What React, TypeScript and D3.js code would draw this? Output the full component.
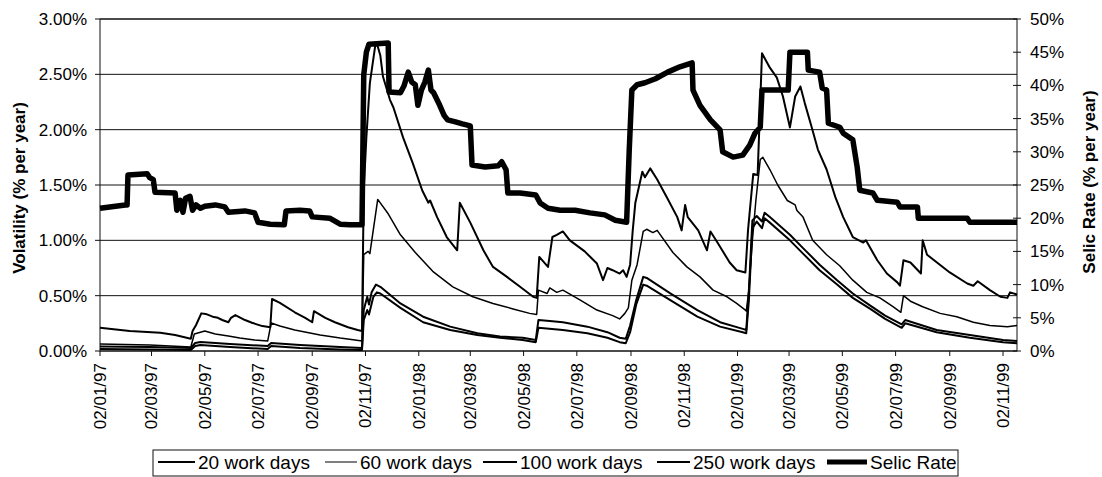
import React from "react";
import * as d3 from "d3";

type P = [string, number];

const tickLabels = ["02/01/97","02/03/97","02/05/97","02/07/97","02/09/97","02/11/97","02/01/98","02/03/98","02/05/98","02/07/98","02/09/98","02/11/98","02/01/99","02/03/99","02/05/99","02/07/99","02/09/99","02/11/99"];
const leftTicks = [0, 0.5, 1, 1.5, 2, 2.5, 3];
const rightTicks = [0, 5, 10, 15, 20, 25, 30, 35, 40, 45, 50];
const dateStart = "1997-01-02";
const dateEnd = "1999-11-18";

const selic: P[] = [["1997-01-02",21.5],["1997-01-31",22.0],["1997-02-02",22.0],["1997-02-03",26.5],["1997-02-25",26.7],["1997-02-28",26.1],["1997-03-04",25.8],["1997-03-06",23.9],["1997-03-29",23.8],["1997-03-31",21.2],["1997-04-04",22.7],["1997-04-07",20.9],["1997-04-10",23.0],["1997-04-15",23.3],["1997-04-18",21.2],["1997-04-22",22.0],["1997-04-27",21.5],["1997-05-02",21.8],["1997-05-14",22.0],["1997-05-25",21.7],["1997-05-29",20.9],["1997-06-17",21.1],["1997-06-28",20.8],["1997-07-02",19.4],["1997-07-16",19.1],["1997-08-01",19.0],["1997-08-03",21.1],["1997-08-19",21.2],["1997-08-30",21.1],["1997-09-02",20.2],["1997-09-22",20.0],["1997-10-04",19.1],["1997-10-15",19.0],["1997-10-29",19.0],["1997-10-31",41.6],["1997-11-03",45.0],["1997-11-06",46.2],["1997-11-28",46.4],["1997-11-29",39.0],["1997-12-12",38.9],["1997-12-16",39.9],["1997-12-21",42.0],["1997-12-25",40.5],["1997-12-29",40.1],["1998-01-01",37.0],["1998-01-05",39.3],["1998-01-09",40.5],["1998-01-13",42.3],["1998-01-16",39.3],["1998-01-19",38.9],["1998-01-26",37.0],["1998-01-31",35.5],["1998-02-04",34.8],["1998-02-13",34.5],["1998-02-21",34.2],["1998-03-02",33.9],["1998-03-04",28.0],["1998-03-19",27.7],["1998-04-03",27.9],["1998-04-07",28.5],["1998-04-12",27.3],["1998-04-14",23.8],["1998-04-28",23.8],["1998-05-16",23.5],["1998-05-21",22.3],["1998-05-30",21.5],["1998-06-13",21.2],["1998-06-30",21.2],["1998-07-17",20.8],["1998-08-03",20.5],["1998-08-15",19.7],["1998-08-28",19.4],["1998-08-31",30.3],["1998-09-03",39.3],["1998-09-09",40.1],["1998-09-18",40.4],["1998-09-30",41.0],["1998-10-14",42.0],["1998-10-28",42.8],["1998-11-11",43.4],["1998-11-12",39.3],["1998-11-20",37.0],["1998-12-02",34.8],["1998-12-13",33.3],["1998-12-16",30.0],["1998-12-28",29.2],["1999-01-08",29.5],["1999-01-16",31.0],["1999-01-22",32.8],["1999-01-28",33.7],["1999-01-30",39.3],["1999-03-01",39.3],["1999-03-03",45.0],["1999-03-23",45.0],["1999-03-24",42.3],["1999-04-06",42.0],["1999-04-09",39.6],["1999-04-14",39.3],["1999-04-16",34.3],["1999-04-29",33.7],["1999-05-03",32.8],["1999-05-14",31.8],["1999-05-19",27.7],["1999-05-22",24.2],["1999-06-06",23.8],["1999-06-11",22.7],["1999-07-04",22.4],["1999-07-07",21.7],["1999-07-27",21.7],["1999-07-28",20.0],["1999-09-22",20.0],["1999-09-25",19.4],["1999-11-18",19.4]];

const vol20: P[] = [["1997-01-02",0.21],["1997-02-05",0.18],["1997-03-12",0.165],["1997-03-29",0.145],["1997-04-16",0.11],["1997-04-18",0.18],["1997-04-22",0.235],["1997-04-28",0.34],["1997-05-03",0.335],["1997-05-11",0.31],["1997-05-17",0.30],["1997-05-22",0.28],["1997-05-29",0.26],["1997-06-01",0.30],["1997-06-06",0.325],["1997-06-17",0.28],["1997-06-25",0.255],["1997-07-07",0.225],["1997-07-16",0.215],["1997-07-18",0.47],["1997-07-27",0.435],["1997-08-13",0.35],["1997-08-25",0.30],["1997-09-02",0.26],["1997-09-04",0.36],["1997-09-17",0.30],["1997-09-28",0.26],["1997-10-13",0.215],["1997-10-24",0.19],["1997-10-29",0.18],["1997-10-31",1.45],["1997-11-03",1.93],["1997-11-07",2.42],["1997-11-13",2.75],["1997-11-15",2.78],["1997-11-19",2.67],["1997-11-22",2.48],["1997-11-30",2.27],["1997-12-04",2.2],["1997-12-15",1.93],["1997-12-26",1.70],["1998-01-06",1.45],["1998-01-13",1.34],["1998-01-15",1.36],["1998-01-23",1.21],["1998-02-03",1.03],["1998-02-15",0.91],["1998-02-18",1.34],["1998-03-02",1.16],["1998-03-17",0.91],["1998-03-28",0.76],["1998-04-13",0.67],["1998-04-28",0.58],["1998-05-13",0.49],["1998-05-17",0.48],["1998-05-20",0.85],["1998-05-30",0.76],["1998-06-04",1.03],["1998-06-09",1.05],["1998-06-16",1.08],["1998-06-24",1.0],["1998-07-11",0.9],["1998-07-25",0.79],["1998-08-01",0.64],["1998-08-06",0.75],["1998-08-12",0.73],["1998-08-20",0.70],["1998-08-24",0.73],["1998-08-28",0.67],["1998-09-01",0.78],["1998-09-04",1.09],["1998-09-07",1.34],["1998-09-15",1.62],["1998-09-18",1.57],["1998-09-24",1.65],["1998-10-02",1.55],["1998-10-13",1.39],["1998-10-25",1.21],["1998-10-30",1.09],["1998-11-03",1.32],["1998-11-06",1.21],["1998-11-18",1.09],["1998-11-28",0.91],["1998-12-02",1.08],["1998-12-10",0.98],["1998-12-24",0.80],["1999-01-01",0.73],["1999-01-11",0.71],["1999-01-14",1.09],["1999-01-20",1.6],["1999-01-25",1.59],["1999-01-30",2.69],["1999-02-08",2.56],["1999-02-16",2.47],["1999-02-23",2.3],["1999-03-03",2.02],["1999-03-09",2.3],["1999-03-15",2.39],["1999-03-20",2.24],["1999-03-28",2.02],["1999-04-04",1.82],["1999-04-14",1.64],["1999-04-24",1.39],["1999-05-03",1.21],["1999-05-14",1.03],["1999-05-26",0.98],["1999-05-29",1.0],["1999-06-11",0.82],["1999-06-22",0.70],["1999-07-04",0.62],["1999-07-07",0.59],["1999-07-11",0.82],["1999-07-19",0.80],["1999-07-31",0.70],["1999-08-02",1.0],["1999-08-07",0.87],["1999-09-02",0.71],["1999-09-22",0.61],["1999-09-29",0.59],["1999-10-04",0.63],["1999-10-18",0.55],["1999-10-30",0.49],["1999-11-07",0.48],["1999-11-10",0.53],["1999-11-18",0.51]];

const vol60: P[] = [["1997-01-02",0.063],["1997-02-28",0.054],["1997-04-16",0.036],["1997-04-20",0.154],["1997-04-27",0.17],["1997-05-02",0.18],["1997-05-14",0.154],["1997-05-29",0.136],["1997-06-11",0.117],["1997-06-28",0.10],["1997-07-13",0.09],["1997-07-17",0.253],["1997-07-27",0.226],["1997-08-13",0.19],["1997-09-11",0.145],["1997-10-04",0.117],["1997-10-21",0.10],["1997-10-29",0.09],["1997-10-31",0.87],["1997-11-05",0.9],["1997-11-07",0.88],["1997-11-16",1.37],["1997-11-28",1.24],["1997-12-12",1.05],["1997-12-29",0.89],["1998-01-18",0.72],["1998-02-10",0.58],["1998-03-05",0.49],["1998-03-28",0.43],["1998-04-20",0.38],["1998-05-09",0.34],["1998-05-17",0.33],["1998-05-19",0.55],["1998-05-29",0.52],["1998-06-01",0.57],["1998-06-09",0.53],["1998-06-16",0.55],["1998-07-06",0.46],["1998-07-25",0.37],["1998-08-12",0.32],["1998-08-20",0.29],["1998-08-26",0.34],["1998-08-30",0.39],["1998-09-03",0.64],["1998-09-09",0.78],["1998-09-16",1.08],["1998-09-20",1.1],["1998-09-27",1.07],["1998-10-02",1.09],["1998-10-20",0.89],["1998-11-05",0.76],["1998-11-20",0.67],["1998-12-05",0.55],["1998-12-21",0.49],["1999-01-01",0.43],["1999-01-11",0.37],["1999-01-12",0.36],["1999-01-15",0.55],["1999-01-19",1.0],["1999-01-23",1.36],["1999-01-28",1.73],["1999-01-31",1.75],["1999-02-08",1.64],["1999-02-17",1.50],["1999-02-28",1.36],["1999-03-09",1.32],["1999-03-11",1.27],["1999-03-18",1.21],["1999-03-29",1.0],["1999-04-14",0.87],["1999-04-29",0.77],["1999-05-14",0.64],["1999-05-30",0.53],["1999-06-14",0.48],["1999-06-29",0.40],["1999-07-08",0.35],["1999-07-11",0.50],["1999-07-19",0.45],["1999-08-02",0.40],["1999-08-22",0.34],["1999-09-10",0.31],["1999-09-29",0.26],["1999-10-18",0.23],["1999-11-07",0.22],["1999-11-18",0.23]];

const vol100: P[] = [["1997-01-02",0.04],["1997-02-28",0.036],["1997-04-16",0.027],["1997-04-21",0.072],["1997-04-27",0.081],["1997-05-31",0.063],["1997-07-13",0.045],["1997-07-17",0.072],["1997-08-19",0.054],["1997-10-04",0.036],["1997-10-29",0.027],["1997-10-31",0.37],["1997-11-04",0.49],["1997-11-06",0.42],["1997-11-09",0.53],["1997-11-14",0.6],["1997-11-19",0.58],["1997-12-12",0.43],["1998-01-07",0.31],["1998-02-07",0.22],["1998-03-10",0.16],["1998-04-05",0.13],["1998-05-01",0.12],["1998-05-16",0.10],["1998-05-19",0.28],["1998-06-01",0.27],["1998-06-16",0.26],["1998-07-14",0.22],["1998-08-06",0.17],["1998-08-20",0.12],["1998-08-27",0.11],["1998-09-01",0.23],["1998-09-08",0.46],["1998-09-16",0.67],["1998-09-20",0.66],["1998-10-17",0.52],["1998-11-17",0.37],["1998-12-13",0.26],["1999-01-08",0.20],["1999-01-12",0.19],["1999-01-15",0.55],["1999-01-19",1.18],["1999-01-24",1.22],["1999-01-30",1.17],["1999-02-02",1.25],["1999-02-08",1.21],["1999-03-03",1.05],["1999-03-18",0.93],["1999-04-06",0.78],["1999-04-26",0.64],["1999-05-14",0.52],["1999-06-03",0.41],["1999-06-20",0.32],["1999-07-09",0.24],["1999-07-13",0.28],["1999-08-18",0.19],["1999-09-25",0.145],["1999-11-02",0.10],["1999-11-18",0.09]];

const vol250: P[] = [["1997-01-02",0.018],["1997-02-28",0.014],["1997-04-16",0.01],["1997-04-21",0.045],["1997-04-27",0.054],["1997-05-31",0.036],["1997-07-13",0.018],["1997-07-17",0.045],["1997-08-19",0.027],["1997-10-04",0.014],["1997-10-29",0.01],["1997-10-31",0.28],["1997-11-04",0.37],["1997-11-06",0.33],["1997-11-11",0.49],["1997-11-15",0.53],["1997-11-19",0.52],["1997-12-12",0.39],["1998-01-07",0.26],["1998-02-07",0.19],["1998-03-10",0.145],["1998-04-05",0.12],["1998-05-01",0.10],["1998-05-16",0.08],["1998-05-19",0.21],["1998-06-16",0.19],["1998-07-14",0.16],["1998-08-06",0.12],["1998-08-20",0.08],["1998-08-27",0.07],["1998-09-01",0.17],["1998-09-08",0.42],["1998-09-16",0.60],["1998-09-20",0.59],["1998-10-17",0.46],["1998-11-17",0.31],["1998-12-13",0.22],["1999-01-08",0.17],["1999-01-12",0.16],["1999-01-15",0.46],["1999-01-19",1.11],["1999-01-24",1.17],["1999-01-30",1.11],["1999-02-02",1.2],["1999-02-08",1.16],["1999-03-03",1.0],["1999-03-18",0.88],["1999-04-06",0.73],["1999-04-26",0.60],["1999-05-14",0.48],["1999-06-03",0.38],["1999-06-20",0.29],["1999-07-09",0.21],["1999-07-13",0.25],["1999-08-18",0.17],["1999-09-25",0.12],["1999-11-02",0.08],["1999-11-18",0.07]];

const legendItems = ["20 work days", "60 work days", "100 work days", "250 work days", "Selic Rate"];

const W = 1102, H = 477;
const M = { left: 100, right: 1017, top: 19, bottom: 351 };
const FONT = "Arial, 'Liberation Sans', Helvetica, sans-serif";

export default function App() {
  const parse = d3.timeParse("%Y-%m-%d");
  const parseTick = d3.timeParse("%d/%m/%y");
  const x = d3.scaleTime().domain([parse(dateStart)!, parse(dateEnd)!]).range([M.left, M.right]);
  const yL = d3.scaleLinear().domain([0, 3]).range([M.bottom, M.top]);
  const yR = d3.scaleLinear().domain([0, 50]).range([M.bottom, M.top]);
  const lineL = d3.line<P>().x(d => x(parse(d[0])!)).y(d => yL(d[1]));
  const lineR = d3.line<P>().x(d => x(parse(d[0])!)).y(d => yR(d[1]));

  const volSeries = [
    { data: vol20, w: 2 },
    { data: vol60, w: 1.5 },
    { data: vol100, w: 2 },
    { data: vol250, w: 2 },
  ];
  const legendX = [158, 325, 483, 657, 827];
  const legendLen = [37, 32, 34, 33, 40];
  const legendW = [2, 1, 2, 2, 5];

  return (
    <svg width={W} height={H} style={{ position: "absolute", left: 0, top: 0, background: "#fff" }} fontFamily={FONT}>
      <rect x={0} y={0} width={W} height={H} fill="#fff" />
      {leftTicks.map(t => (
        <line key={"g" + t} x1={M.left} x2={M.right} y1={yL(t)} y2={yL(t)} stroke="#111" strokeWidth={1} />
      ))}
      <rect x={M.left} y={M.top} width={M.right - M.left} height={M.bottom - M.top} fill="none" stroke="#111" strokeWidth={1} />
      {leftTicks.map(t => (
        <g key={"lt" + t}>
          <line x1={M.left - 5} x2={M.left} y1={yL(t)} y2={yL(t)} stroke="#111" />
          <text x={87} y={yL(t)} dy="0.35em" textAnchor="end" fontSize={17} fill="#000">{t.toFixed(2) + "%"}</text>
        </g>
      ))}
      {rightTicks.map(t => (
        <g key={"rt" + t}>
          <line x1={M.right - 4} x2={M.right + 4} y1={yR(t)} y2={yR(t)} stroke="#111" />
          <text x={1030} y={yR(t)} dy="0.35em" textAnchor="start" fontSize={17} fill="#000">{t + "%"}</text>
        </g>
      ))}
      {tickLabels.map(l => {
        const px = x(parseTick(l)!);
        return (
          <g key={l}>
            <line x1={px} x2={px} y1={M.bottom} y2={M.bottom + 5} stroke="#111" />
            <text transform={`translate(${px},${M.bottom + 12}) rotate(-90)`} dy="0.35em" textAnchor="end" fontSize={17} fill="#000">{l}</text>
          </g>
        );
      })}
      <text transform={`translate(19,188) rotate(-90)`} dy="0.35em" textAnchor="middle" fontSize={17} fontWeight="bold" fill="#000">Volatility (% per year)</text>
      <text transform={`translate(1089,182) rotate(-90)`} dy="0.35em" textAnchor="middle" fontSize={17} fontWeight="bold" fill="#000">Selic Rate (% per year)</text>
      {volSeries.map((s, i) => (
        <path key={"v" + i} d={lineL(s.data)!} fill="none" stroke="#000" strokeWidth={s.w} strokeLinejoin="round" />
      ))}
      <path d={lineR(selic)!} fill="none" stroke="#000" strokeWidth={5.5} strokeLinejoin="round" />
      <rect x={153} y={450} width={805} height={26} fill="#fff" stroke="#111" strokeWidth={1} />
      {legendItems.map((name, i) => (
        <g key={name}>
          <line x1={legendX[i]} x2={legendX[i] + legendLen[i]} y1={462} y2={462} stroke="#000" strokeWidth={legendW[i]} />
          <text x={legendX[i] + legendLen[i] + 3} y={462} dy="0.35em" fontSize={19} fill="#000">{name}</text>
        </g>
      ))}
    </svg>
  );
}
